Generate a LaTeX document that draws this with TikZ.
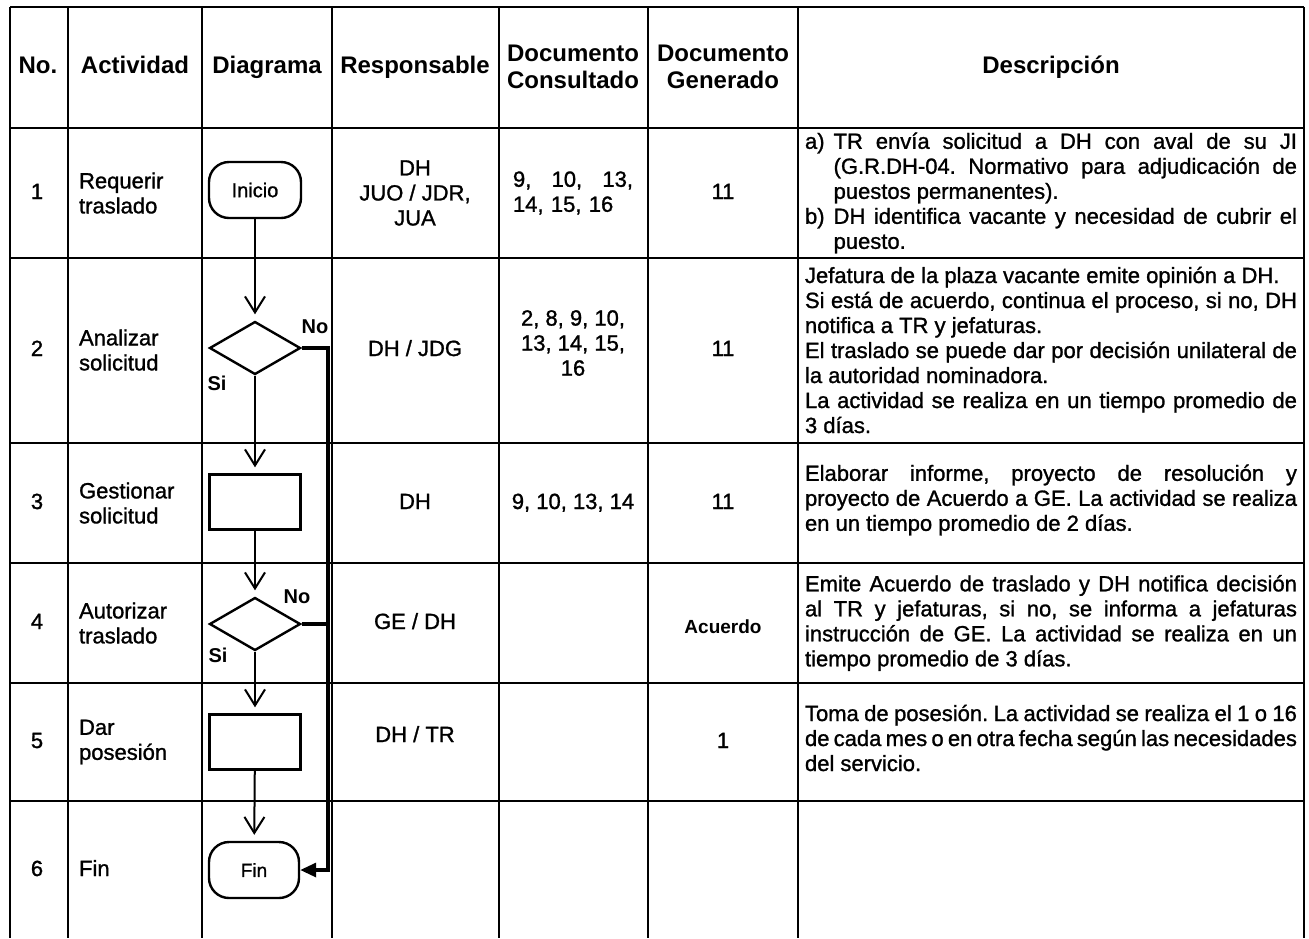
\documentclass[tikz,border=0pt]{standalone}
\usepackage{fontspec}
\setmainfont{Liberation Sans}
\newfontfamily\scanfont{Liberation Sans}[RawFeature={embolden=1.2}]
\usetikzlibrary{positioning, shapes.geometric, arrows.meta, calc}
\frenchspacing

\begin{document}
\begin{tikzpicture}[
    x=0.5pt, y=-0.5pt,
    tline/.style={line width=0.8pt},
    hdr/.style={font=\bfseries\fontsize{12}{13.5}\selectfont, align=center},
    oneline/.style={text height=8.5pt, text depth=2.5pt},
    cell/.style={font=\scanfont\fontsize{11}{12.5}\selectfont, align=center},
    act/.style={cell, anchor=west, align=left},
    desc/.style={font=\scanfont\fontsize{11}{12.5}\selectfont, text width=246pt, align=justify, inner sep=0pt},
    term/.style={draw, line width=1.2pt, rounded corners=10pt, minimum width=46pt, minimum height=28pt, font=\scanfont\fontsize{10}{12}\selectfont},
    proc/.style={draw, line width=1.2pt, minimum width=45.5pt, minimum height=27.5pt},
    decision/.style={diamond, draw, line width=1.2pt, minimum width=45.5pt, minimum height=26.5pt, inner sep=0pt},
    flowarrow/.style={-{Straight Barb[length=8pt,width=10pt]}, line width=1pt, shorten >=3pt},
    noline/.style={line width=1.6pt},
    lbl/.style={font=\bfseries\fontsize{10}{12}\selectfont, inner sep=0pt}
]
\useasboundingbox (0,0) rectangle (1309,938);

% table lines
\foreach \y in {7,128,258,443,563,683,801}
    \draw[tline] (10,\y) -- (1304,\y);
\foreach \x in {10,68,202,332,499,648,798,1304}
    \draw[tline] (\x,7) -- (\x,938);

% header
\node[hdr, oneline] (hno) at (38,67) {No.};
\node[hdr, oneline] (hact) at (135,67) {Actividad};
\node[hdr, oneline] (hdiag) at (267,67) {Diagrama};
\node[hdr, oneline] (hresp) at (415,67) {Responsable};
\node[hdr] (hcons) at (573,67) {Documento\\Consultado};
\node[hdr] (hgen) at (723,67) {Documento\\Generado};
\node[hdr, oneline] (hdesc) at (1051,67) {Descripción};

% row 1
\node[cell, oneline] (n1) at (37,193) {1};
\node[act] (a1) at (72,193) {Requerir\\traslado};
\node[cell] (r1) at (415,193) {DH\\JUO / JDR,\\JUA};
\node[cell, text width=60pt, align=left] (c1) at (573,193) {\hbox to 60pt{9,\hfil 10,\hfil 13,}\\14, 15, 16};
\node[cell, oneline] (g1) at (723,193) {11};
\node[desc] (d1) at (1051,193) {%
  {\hangindent=1.3em\hangafter=1\noindent\makebox[1.3em][l]{a)}TR envía solicitud a DH con aval de su JI\linebreak
  (G.R.DH-04. Normativo para adjudicación de\linebreak puestos permanentes).\par}
  {\hangindent=1.3em\hangafter=1\noindent\makebox[1.3em][l]{b)}DH identifica vacante y necesidad de cubrir el\linebreak
  puesto.\par}};

% row 2
\node[cell, oneline] (n2) at (37,350) {2};
\node[act] (a2) at (72,350) {Analizar\\solicitud};
\node[cell, oneline] (r2) at (415,350) {DH / JDG};
\node[cell] (c2) at (573,343) {2, 8, 9, 10,\\13, 14, 15,\\16};
\node[cell, oneline] (g2) at (723,350) {11};
\node[desc] (d2t) at (1051,350) {%
  Jefatura de la plaza vacante emite opinión a DH.\par
  Si está de acuerdo, continua el proceso, si no, DH\linebreak notifica a TR y jefaturas.\par
  El traslado se puede dar por decisión unilateral de\linebreak la autoridad nominadora.\par
  La actividad se realiza en un tiempo promedio de\linebreak 3 días.};

% row 3
\node[cell, oneline] (n3) at (37,503) {3};
\node[act] (a3) at (72,503) {Gestionar\\solicitud};
\node[cell, oneline] (r3) at (415,503) {DH};
\node[cell, oneline] (c3) at (573,503) {9, 10, 13, 14};
\node[cell, oneline] (g3) at (723,503) {11};
\node[desc] (d3t) at (1051,500) {%
  Elaborar informe, proyecto de resolución y\linebreak proyecto de Acuerdo a GE. La actividad se realiza\linebreak
  en un tiempo promedio de 2 días.};

% row 4
\node[cell, oneline] (n4) at (37,623) {4};
\node[act] (a4) at (72,623) {Autorizar\\traslado};
\node[cell, oneline] (r4) at (415,623) {GE / DH};
\node[cell, oneline, font=\bfseries\fontsize{9.5}{11}\selectfont] (g4) at (723,627) {Acuerdo};
\node[desc] (d4t) at (1051,623) {%
  Emite Acuerdo de traslado y DH notifica decisión\linebreak al TR y jefaturas, si no, se informa a jefaturas\linebreak
  instrucción de GE. La actividad se realiza en un\linebreak tiempo promedio de 3 días.};

% row 5
\node[cell, oneline] (n5) at (37,742) {5};
\node[act] (a5) at (72,742) {Dar\\posesión};
\node[cell, oneline] (r5) at (415,736) {DH / TR};
\node[cell, oneline] (g5) at (723,742) {1};
\node[desc] (d5t) at (1051,738) {%
  Toma de posesión. La actividad se realiza el 1 o 16\linebreak de cada mes o en otra fecha según las necesidades\linebreak
  del servicio.};

% row 6
\node[cell, oneline] (n6) at (37,870) {6};
\node[act, oneline] (a6) at (72,870) {Fin};

% diagram
\node[term] (inicio) at (255,190) {Inicio};
\node[decision] (d2) at (255,348) {};
\node[proc] (p3) at (255,502) {};
\node[decision] (d4) at (255,624) {};
\node[proc] (p5) at (255,742) {};
\node[term, minimum width=45pt, font=\scanfont\fontsize{9.5}{11}\selectfont] (fin) at (254,870) {Fin};
\coordinate (bus) at (328,0);

\draw[flowarrow] (inicio) -- (d2);
\draw[flowarrow] (d2) -- (p3);
\draw[flowarrow] (p3) -- (d4);
\draw[flowarrow] (d4) -- (p5);
\draw[flowarrow] (p5) -- (fin);
\draw[noline, -{Triangle[length=8pt,width=7pt]}] (d2.east) -- (d2.east -| bus) |- (fin.east);
\draw[noline] (d4.east) -- (d4.east -| bus);

\node[lbl] (no2) at (315,327) {No};
\node[lbl] (si2) at (217,383) {Si};
\node[lbl] (no4) at (297,597) {No};
\node[lbl] (si4) at (218,655) {Si};

\end{tikzpicture}
\end{document}
